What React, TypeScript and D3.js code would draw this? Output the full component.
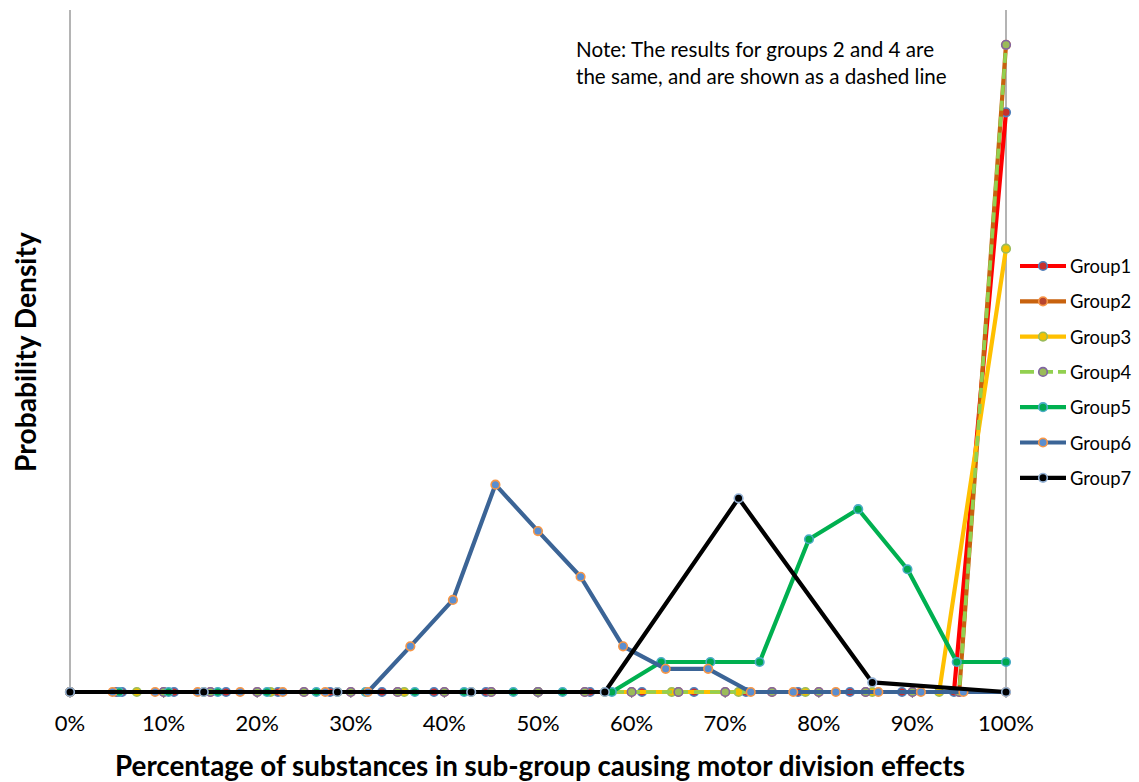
import React, { useEffect, useRef } from "react";
import * as d3 from "d3";

const W = 1139;
const H = 782;

const seriesNames = ["Group1", "Group2", "Group3", "Group4", "Group5", "Group6", "Group7"];

const g1X = [0, 5.56, 11.11, 16.67, 22.22, 27.78, 33.33, 38.89, 44.44, 50, 55.56, 61.11, 66.67, 72.22, 77.78, 83.33, 88.89, 94.44, 100];
const g1Y = [0, 0, 0, 0, 0, 0, 0, 0, 0, 0, 0, 0, 0, 0, 0, 0, 0, 0, 0.85];

const g2X = [0, 5, 10, 15, 20, 25, 30, 35, 40, 45, 50, 55, 60, 65, 70, 75, 80, 85, 90, 95, 100];
const g2Y = [0, 0, 0, 0, 0, 0, 0, 0, 0, 0, 0, 0, 0, 0, 0, 0, 0, 0, 0, 0, 0.949];

const g3X = [0, 7.14, 14.29, 21.43, 28.57, 35.71, 42.86, 50, 57.14, 64.29, 71.43, 78.57, 85.71, 92.86, 100];
const g3Y = [0, 0, 0, 0, 0, 0, 0, 0, 0, 0, 0, 0, 0, 0, 0.65];

const g4X = [0, 5, 10, 15, 20, 25, 30, 35, 40, 45, 50, 55, 60, 65, 70, 75, 80, 85, 90, 95, 100];
const g4Y = [0, 0, 0, 0, 0, 0, 0, 0, 0, 0, 0, 0, 0, 0, 0, 0, 0, 0, 0, 0, 0.949];

const g5X = [0, 5.26, 10.53, 15.79, 21.05, 26.32, 31.58, 36.84, 42.11, 47.37, 52.63, 57.89, 63.16, 68.42, 73.68, 78.95, 84.21, 89.47, 94.74, 100];
const g5Y = [0, 0, 0, 0, 0, 0, 0, 0, 0, 0, 0, 0, 0.044, 0.044, 0.044, 0.224, 0.268, 0.18, 0.044, 0.044];

const g6X = [0, 4.55, 9.09, 13.64, 18.18, 22.73, 27.27, 31.82, 36.36, 40.91, 45.45, 50, 54.55, 59.09, 63.64, 68.18, 72.73, 77.27, 81.82, 86.36, 90.91, 95.45, 100];
const g6Y = [0, 0, 0, 0, 0, 0, 0, 0, 0.067, 0.135, 0.304, 0.236, 0.169, 0.067, 0.034, 0.034, 0, 0, 0, 0, 0, 0, 0];

const g7X = [0, 14.29, 28.57, 42.86, 57.14, 71.43, 85.71, 100];
const g7Y = [0, 0, 0, 0, 0, 0.284, 0.014, 0];

const xTicks = [0, 10, 20, 30, 40, 50, 60, 70, 80, 90, 100];
const xTickLabels = ["0%", "10%", "20%", "30%", "40%", "50%", "60%", "70%", "80%", "90%", "100%"];

const noteLines = [
  "Note: The results for groups 2 and 4 are",
  "the same, and are shown as a dashed line",
];
const xTitle = "Percentage of substances in sub-group causing motor division effects";
const yTitle = "Probability Density";

const lineColors = ["#FF0000", "#C8620E", "#FFC000", "#92D050", "#00B050", "#3B6496", "#000000"];
const markerFills = ["#C8302C", "#B8452E", "#F2C200", "#9BBB59", "#00A850", "#5A8ED0", "#000000"];
const markerStrokes = ["#4F81BD", "#F79646", "#9BBB59", "#8064A2", "#4BACC6", "#F79646", "#95B3D7"];
const dashes = [null, null, null, "10,6", null, null, null];

const FONT = "Lato, 'Open Sans', sans-serif";

export default function App() {
  const ref = useRef<SVGSVGElement>(null);

  useEffect(() => {
    const svg = d3.select(ref.current);
    svg.selectAll("*").remove();

    const left = 70, right = 1006, top = 10, bottom = 692;
    const x = d3.scaleLinear().domain([0, 100]).range([left, right]);
    const y = d3.scaleLinear().domain([0, 1]).range([bottom, top]);

    svg.append("rect").attr("width", W).attr("height", H).attr("fill", "#fff");

    // axis lines
    svg.append("line").attr("x1", left).attr("x2", left).attr("y1", top).attr("y2", bottom + 5)
      .attr("stroke", "#8C8C8C").attr("stroke-width", 1.3);
    svg.append("line").attr("x1", right).attr("x2", right).attr("y1", top).attr("y2", bottom + 5)
      .attr("stroke", "#8C8C8C").attr("stroke-width", 1.3);
    svg.append("line").attr("x1", left).attr("x2", right).attr("y1", bottom).attr("y2", bottom)
      .attr("stroke", "#8C8C8C").attr("stroke-width", 1.3);

    const tickG = svg.append("g");
    xTicks.forEach((t, i) => {
      tickG.append("line").attr("x1", x(t)).attr("x2", x(t)).attr("y1", bottom).attr("y2", bottom + 6)
        .attr("stroke", "#8C8C8C").attr("stroke-width", 1.3);
      tickG.append("text").attr("x", x(t)).attr("y", 722).attr("text-anchor", "middle")
        .attr("dominant-baseline", "central").attr("font-family", FONT).attr("font-size", 22)
        .attr("fill", "#000").text(xTickLabels[i]);
    });

    const xs = [g1X, g2X, g3X, g4X, g5X, g6X, g7X];
    const ys = [g1Y, g2Y, g3Y, g4Y, g5Y, g6Y, g7Y];

    const line = d3.line<[number, number]>().x((d) => x(d[0])).y((d) => y(d[1]));

    xs.forEach((xv, si) => {
      const pts: [number, number][] = xv.map((v, i) => [v, ys[si][i]]);
      const g = svg.append("g");
      const p = g.append("path").attr("d", line(pts) as string).attr("fill", "none")
        .attr("stroke", lineColors[si]).attr("stroke-width", si === 3 ? 3.6 : 4.2)
        .attr("stroke-linejoin", "round");
      if (dashes[si]) p.attr("stroke-dasharray", dashes[si] as string);
      g.selectAll("circle").data(pts).enter().append("circle")
        .attr("cx", (d) => x(d[0])).attr("cy", (d) => y(d[1])).attr("r", 4.3)
        .attr("fill", markerFills[si]).attr("stroke", markerStrokes[si]).attr("stroke-width", 1.6);
    });

    // note
    noteLines.forEach((t, i) => {
      svg.append("text").attr("x", 576).attr("y", 49 + i * 27).attr("dominant-baseline", "central")
        .attr("font-family", FONT).attr("font-size", 20.6).attr("fill", "#000").text(t);
    });

    // legend
    const lg = svg.append("g");
    seriesNames.forEach((name, i) => {
      const cy = 266 + i * 35.3;
      const l = lg.append("line").attr("x1", 1020).attr("x2", 1066).attr("y1", cy).attr("y2", cy)
        .attr("stroke", lineColors[i]).attr("stroke-width", i === 3 ? 3.6 : 4.2);
      if (dashes[i]) l.attr("stroke-dasharray", "14,5");
      lg.append("circle").attr("cx", 1043).attr("cy", cy).attr("r", 4.3)
        .attr("fill", markerFills[i]).attr("stroke", markerStrokes[i]).attr("stroke-width", 1.6);
      lg.append("text").attr("x", 1070).attr("y", cy).attr("dominant-baseline", "central")
        .attr("font-family", FONT).attr("font-size", 18.4).attr("fill", "#000").text(name);
    });

    // axis titles
    svg.append("text").attr("x", 540).attr("y", 765).attr("text-anchor", "middle")
      .attr("dominant-baseline", "central").attr("font-family", FONT).attr("font-weight", "bold")
      .attr("font-size", 27.8).attr("fill", "#000").text(xTitle);
    svg.append("text").attr("transform", "translate(25,352) rotate(-90)").attr("text-anchor", "middle")
      .attr("dominant-baseline", "central").attr("font-family", FONT).attr("font-weight", "bold")
      .attr("font-size", 28.2).attr("fill", "#000").text(yTitle);
  }, []);

  return (
    <div style={{ position: "absolute", left: 0, top: 0 }}>
      <svg ref={ref} width={W} height={H} style={{ display: "block" }} />
    </div>
  );
}
